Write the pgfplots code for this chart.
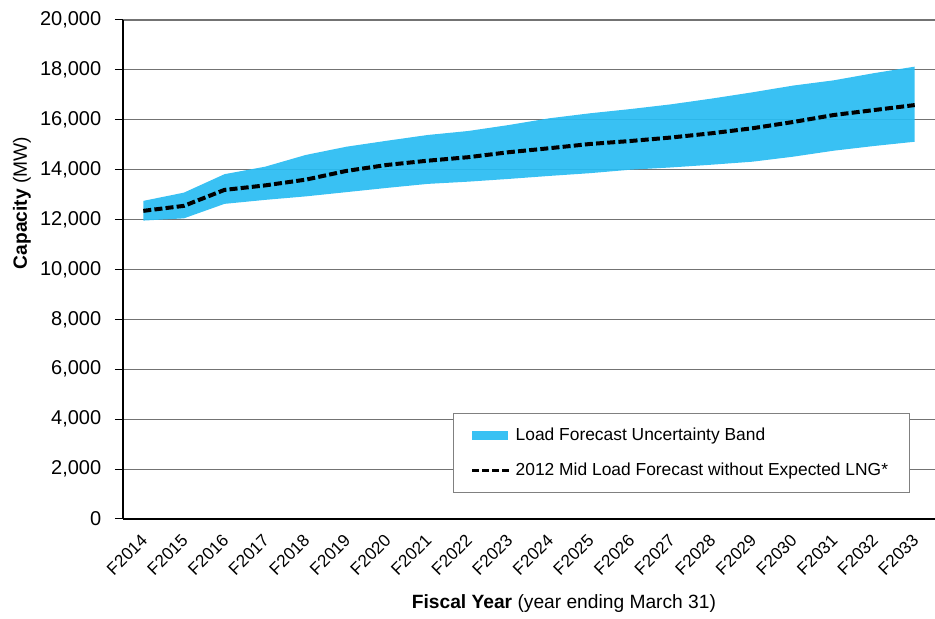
\documentclass[border=0pt]{standalone}
\usepackage{pgfplots}
\pgfplotsset{compat=1.18}
\usepackage{pgfplotstable}
\usepackage{fontspec}
\setmainfont{Liberation Sans}

\definecolor{bandblue}{RGB}{40,188,242}
\definecolor{gridgray}{RGB}{115,115,115}
\definecolor{legendgray}{RGB}{128,128,128}

% Mid load forecast (MW)
\pgfplotstableread{
x  mid
0  12350
1  12550
2  13190
3  13370
4  13600
5  13950
6  14190
7  14360
8  14500
9  14700
10 14860
11 15030
12 15150
13 15290
14 15460
15 15660
16 15910
17 16190
18 16390
19 16590
}\midforecast

% Uncertainty band outline: upper bound F2014..F2033, then lower bound back
\pgfplotstableread{
x  y
0  12750
1  13080
2  13820
3  14120
4  14590
5  14920
6  15160
7  15390
8  15550
9  15790
10 16060
11 16260
12 16430
13 16620
14 16850
15 17100
16 17370
17 17580
18 17870
19 18130
19 15120
18 14950
17 14760
16 14520
15 14320
14 14200
13 14090
12 14000
11 13860
10 13750
9  13630
8  13520
7  13430
6  13270
5  13100
4  12930
3  12790
2  12630
1  12050
0  11960
}\band

\begin{document}
\fontsize{9.6pt}{11.5pt}\selectfont
\begin{tikzpicture}
\begin{axis}[
  at={(0,0)}, anchor=south west,
  scale only axis,
  width=406pt, height=249.5pt,
  xmin=-0.5, xmax=19.5,
  ymin=0, ymax=20000,
  axis lines*=left,
  axis line style={black, line width=0.6pt},
  xtick={0,...,19},
  xticklabels={F2014,F2015,F2016,F2017,F2018,F2019,F2020,F2021,F2022,F2023,
               F2024,F2025,F2026,F2027,F2028,F2029,F2030,F2031,F2032,F2033},
  x tick label style={rotate=45, anchor=east, yshift=-4pt, xshift=0pt,
    font=\fontsize{8.6pt}{10pt}\selectfont},
  y tick label style={font=\fontsize{10pt}{12pt}\selectfont,
    /pgf/number format/fixed, xshift=-3.5pt},
  xtick style={draw=none},
  minor xtick={-0.5,0.5,...,19.5},
  minor x tick style={black, line width=0.5pt},
  ytick={0,2000,...,20000},
  y tick style={black, line width=0.5pt},
  tick align=outside,
  major tick length=4pt,
  minor tick length=3.5pt,
  ymajorgrids,
  major grid style={gridgray, line width=0.55pt},
  /pgf/number format/assume math mode=true,
  /pgf/number format/1000 sep={,},
  scaled y ticks=false,
  ylabel={\textbf{Capacity} (MW)},
  ylabel style={at={(axis description cs:-0.1244,0.6333)}, anchor=center},
  xlabel={\textbf{Fiscal Year} (year ending March 31)},
  xlabel style={at={(axis description cs:0.543,-0.1703)}, anchor=center},
  legend style={
    at={(axis description cs:0.4064,0.2124)}, anchor=north west,
    draw=legendgray, line width=0.5pt,
    inner xsep=8.5pt, inner ysep=5pt,
    row sep=5.8pt,
    font=\fontsize{8.7pt}{10.5pt}\selectfont,
  },
  legend cell align=left,
]
\addplot[fill=bandblue, fill opacity=0.92, draw=none,
  legend image code/.code={\fill[bandblue] (0pt,-2.25pt) rectangle (18pt,2.25pt);}]
  table[x=x, y=y] {\band} -- cycle;
\addlegendentry{Load Forecast Uncertainty Band}
\addplot[black, line width=2pt, dash pattern=on 4pt off 1.6pt,
  legend image code/.code={\draw[black, line width=1.6pt, dash pattern=on 3.4pt off 1.6pt] (0pt,0pt) -- (19pt,0pt);}]
  table[x=x, y=mid] {\midforecast};
\addlegendentry{2012 Mid Load Forecast without Expected LNG*}
\end{axis}
\pgfresetboundingbox
\useasboundingbox (-61.5pt,-50pt) rectangle (406pt,259.5pt);
\end{tikzpicture}
\end{document}
